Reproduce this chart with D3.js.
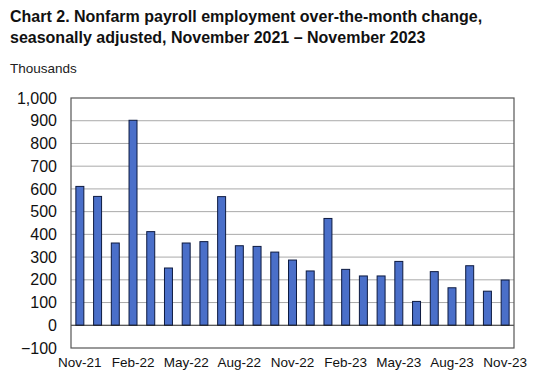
<!DOCTYPE html>
<html><head><meta charset="utf-8">
<script src="https://cdn.jsdelivr.net/npm/d3@7"></script>
<style>body{margin:0;background:#fff;}svg{display:block;font-family:"Liberation Sans",Arial,sans-serif;}</style>
</head><body><svg id="c" width="540" height="381"></svg>
<script>
const months = ["Nov-21","Dec-21","Jan-22","Feb-22","Mar-22","Apr-22","May-22","Jun-22","Jul-22","Aug-22","Sep-22","Oct-22","Nov-22","Dec-22","Jan-23","Feb-23","Mar-23","Apr-23","May-23","Jun-23","Jul-23","Aug-23","Sep-23","Oct-23","Nov-23"];
const values = [611,567,362,902,412,252,362,368,566,350,347,322,287,239,470,246,217,217,281,105,236,165,262,150,199];
const yTicks = [-100,0,100,200,300,400,500,600,700,800,900,1000];
const xLabels = ["Nov-21","Feb-22","May-22","Aug-22","Nov-22","Feb-23","May-23","Aug-23","Nov-23"];

const svg = d3.select("#c");
const m = {l:71, r:514, t:98, b:348};
const x = d3.scaleBand().domain(months).range([m.l, m.r]).paddingInner(0.55).paddingOuter(0.275);
const y = d3.scaleLinear().domain([-100,1000]).range([m.b, m.t]);

svg.append("text").attr("x",10).attr("y",22).attr("font-size",16).attr("font-weight","bold").attr("fill","#111")
  .text("Chart 2. Nonfarm payroll employment over-the-month change,");
svg.append("text").attr("x",10).attr("y",43).attr("font-size",16).attr("font-weight","bold").attr("fill","#111")
  .text("seasonally adjusted, November 2021 \u2013 November 2023");
svg.append("text").attr("x",10).attr("y",73).attr("font-size",13.5).attr("fill","#222").text("Thousands");

// gridlines
svg.append("g").selectAll("line").data(yTicks.filter(d=>d>0 && d<1000)).join("line")
  .attr("x1",m.l).attr("x2",m.r).attr("y1",d=>y(d)).attr("y2",d=>y(d))
  .attr("stroke","#aaaaaa").attr("stroke-width",1);

// y axis labels
const ya = svg.append("g").attr("transform",`translate(${m.l},0)`)
  .call(d3.axisLeft(y).tickValues(yTicks).tickSize(0).tickPadding(14).tickFormat(d3.format(",")));
ya.select(".domain").remove();
ya.selectAll("text").attr("font-size",16).attr("fill","#111").attr("font-family","Liberation Sans, Arial, sans-serif");

// bars
svg.append("g").selectAll("rect").data(values).join("rect")
  .attr("x",(d,i)=>x(months[i])).attr("width",x.bandwidth())
  .attr("y",d=>y(Math.max(0,d))).attr("height",d=>Math.abs(y(d)-y(0)))
  .attr("fill","#4a6fc9").attr("stroke","#0d1a40").attr("stroke-width",1);

// zero line
svg.append("line").attr("x1",m.l).attr("x2",m.r).attr("y1",y(0)).attr("y2",y(0)).attr("stroke","#222").attr("stroke-width",1.2);

// frame
svg.append("rect").attr("x",m.l).attr("y",m.t).attr("width",m.r-m.l).attr("height",m.b-m.t)
  .attr("fill","none").attr("stroke","#555").attr("stroke-width",1.2);

// x axis labels
const xa = svg.append("g").attr("transform",`translate(0,${m.b})`)
  .call(d3.axisBottom(x).tickValues(xLabels).tickSize(0).tickPadding(9));
xa.select(".domain").remove();
xa.selectAll("text").attr("font-size",13.5).attr("fill","#111").attr("font-family","Liberation Sans, Arial, sans-serif");
</script></body></html>
